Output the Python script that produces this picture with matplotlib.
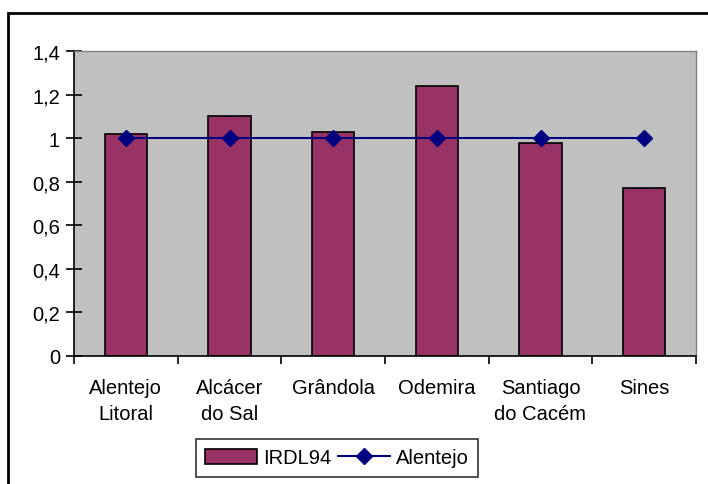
import matplotlib
matplotlib.use("Agg")
import matplotlib.pyplot as plt
from matplotlib.patches import Rectangle

plt.rcParams['font.family'] = ['Liberation Sans', 'DejaVu Sans']

# data
municipios = ["Alentejo\nLitoral", "Alcácer\ndo Sal", "Grândola", "Odemira",
              "Santiago\ndo Cacém", "Sines"]
irdl94 = [1.02, 1.10, 1.03, 1.24, 0.98, 0.77]
alentejo = [1, 1, 1, 1, 1, 1]
yticks = [0, 0.2, 0.4, 0.6, 0.8, 1, 1.2, 1.4]
ytick_labels = ["0", "0,2", "0,4", "0,6", "0,8", "1", "1,2", "1,4"]

fig = plt.figure(figsize=(7.08, 4.85), dpi=100)
fig.patch.set_facecolor("white")

# outer frame (cut off at right and bottom like the original)
fig.patches.append(Rectangle((8 / 708, -0.05), 1.05, 1 - 14 / 485 + 0.05,
                             transform=fig.transFigure, fill=False,
                             edgecolor="black", linewidth=2, zorder=0))

ax = fig.add_axes([74 / 708, 1 - 357 / 485, (696 - 74) / 708, (357 - 52) / 485])
ax.set_facecolor("#C0C0C0")

x = list(range(len(municipios)))
bars = ax.bar(x, irdl94, width=0.41, color="#993366", edgecolor="black",
              linewidth=1.2, label="IRDL94", zorder=2)
line, = ax.plot(x, alentejo, color="#000080", linewidth=1.5, marker="D",
                markersize=8, label="Alentejo", zorder=3)

ax.set_xlim(-0.5, len(municipios) - 0.5)
ax.set_ylim(0, 1.4)
ax.set_yticks(yticks)
ax.set_yticklabels(ytick_labels, fontsize=14.5)

# category ticks at the boundaries, labels centred under bars
ax.set_xticks([i - 0.5 for i in range(len(municipios) + 1)])
ax.set_xticklabels([])
ax.set_xticks(x, minor=True)
ax.set_xticklabels(municipios, minor=True, fontsize=14.5, linespacing=1.45,
                   va="top")
ax.tick_params(axis="x", which="minor", length=0, pad=16)
ax.tick_params(axis="x", which="major", direction="out", length=6, width=1.2)
ax.tick_params(axis="y", direction="inout", length=12, width=1.2, pad=4)

for s in ["left", "bottom"]:
    ax.spines[s].set_color("black")
    ax.spines[s].set_linewidth(1.2)
for s in ["top", "right"]:
    ax.spines[s].set_color("#808080")
    ax.spines[s].set_linewidth(1)

leg = fig.legend(handles=[bars, line], loc="center",
                 bbox_to_anchor=(337 / 708, 1 - 459 / 485), ncol=2,
                 fontsize=14.5, frameon=True, fancybox=False, shadow=False,
                 handlelength=2.6, handletextpad=0.3, columnspacing=0.3,
                 borderpad=0.45)
leg.get_frame().set_edgecolor("black")
leg.get_frame().set_linewidth(1.2)

fig.savefig("out.png", dpi=100)
